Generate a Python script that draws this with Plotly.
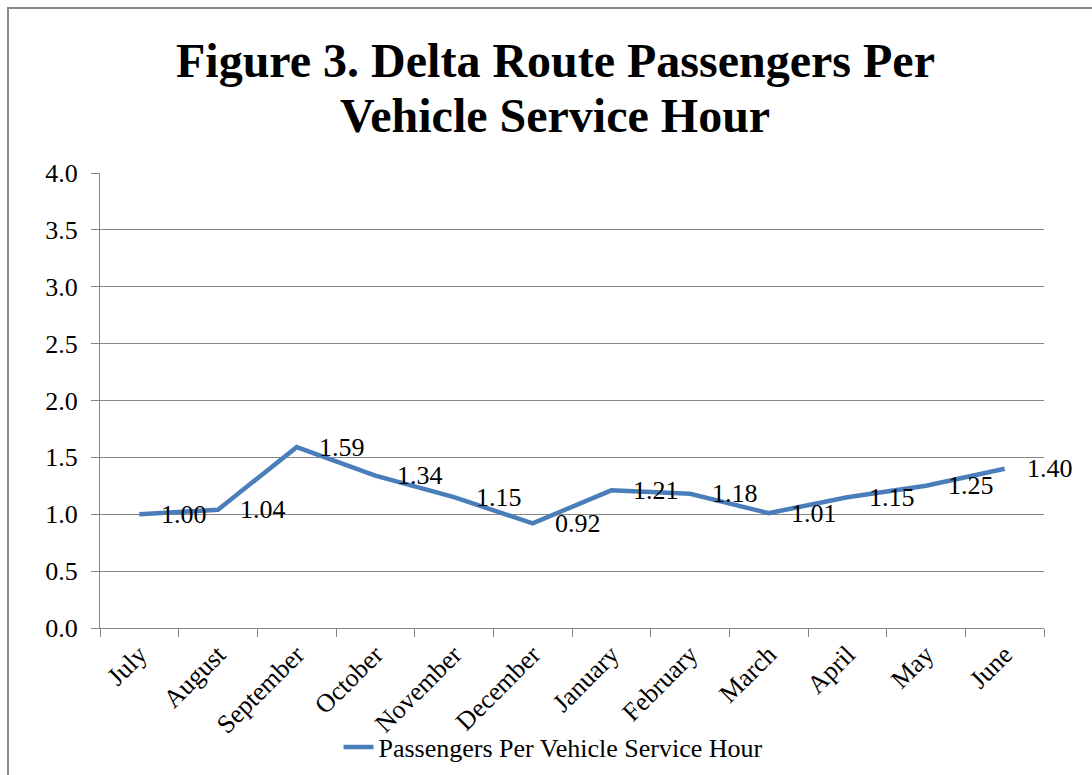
import plotly.graph_objects as go

months = ["July", "August", "September", "October", "November", "December",
          "January", "February", "March", "April", "May", "June"]
values = [1.00, 1.04, 1.59, 1.34, 1.15, 0.92, 1.21, 1.18, 1.01, 1.15, 1.25, 1.40]
labels = [f"{v:.2f}" for v in values]
yticks = [0, 0.5, 1.0, 1.5, 2.0, 2.5, 3.0, 3.5, 4.0]
series_name = "Passengers Per Vehicle Service Hour"
title_lines = ["Figure 3. Delta Route Passengers Per", "Vehicle Service Hour"]

FONT = "Liberation Serif"
FS = 26

# plot area in pixels (for positioning helper conversions)
L, R, T, B = 100, 48, 173, 147
PH = 775 - T - B
PW = 1092 - L - R


def py(pix):
    return (775 - B - pix) / PH


def px(pix):
    return (pix - L) / PW


fig = go.Figure()
fig.add_trace(go.Scatter(
    x=months, y=values, mode="lines", name=series_name,
    line=dict(color="#4A7EBB", width=4.5),
    cliponaxis=False,
))

annotations = []
for m, v, t in zip(months, values, labels):
    annotations.append(dict(x=m, y=v, xref="x", yref="y", text=t, showarrow=False,
                            xanchor="left", yanchor="middle", xshift=20, yshift=0,
                            font=dict(family=FONT, size=FS, color="#000000")))

for i, line in enumerate(title_lines):
    annotations.append(dict(x=px(555), y=py(60 + 55 * i), xref="paper", yref="paper",
                            text=line, showarrow=False, xanchor="center", yanchor="middle",
                            font=dict(family=FONT, size=48, color="#000000", weight="bold")))

fig.update_layout(
    width=1092, height=775,
    margin=dict(l=L, r=R, t=T, b=B, autoexpand=False),
    paper_bgcolor="white", plot_bgcolor="white",
    font=dict(family=FONT, size=FS, color="#000000"),
    showlegend=True,
    legend=dict(orientation="h", x=553 / 1092, xref="container", xanchor="center",
                y=1 - 747 / 775, yref="container", yanchor="middle",
                font=dict(family=FONT, size=FS, color="#000000"),
                bgcolor="rgba(0,0,0,0)"),
    xaxis=dict(type="category", range=[-0.5, len(months) - 0.5], autorange=False,
               tickson="boundaries", ticks="outside", ticklen=8,
               tickcolor="#868686", showline=True, linecolor="#868686", linewidth=1,
               showgrid=False, tickangle=-45, automargin=False,
               tickfont=dict(family=FONT, size=FS, color="#000000")),
    yaxis=dict(range=[0, 4.0], autorange=False, tickvals=yticks,
               ticktext=[f"{t:.1f}" for t in yticks],
               ticks="outside", ticklen=8, tickcolor="#868686", ticklabelstandoff=8,
               showline=True, linecolor="#868686", linewidth=1, automargin=False,
               showgrid=True, gridcolor="#868686", gridwidth=1, zeroline=False,
               tickfont=dict(family=FONT, size=FS, color="#000000")),
    annotations=annotations,
    shapes=[dict(type="rect", xref="paper", yref="paper",
                 x0=px(8), x1=1.2, y0=-0.5, y1=py(8),
                 line=dict(color="#8A8A8A", width=2), fillcolor="rgba(0,0,0,0)",
                 layer="below")],
)

fig.write_html("out.html")
